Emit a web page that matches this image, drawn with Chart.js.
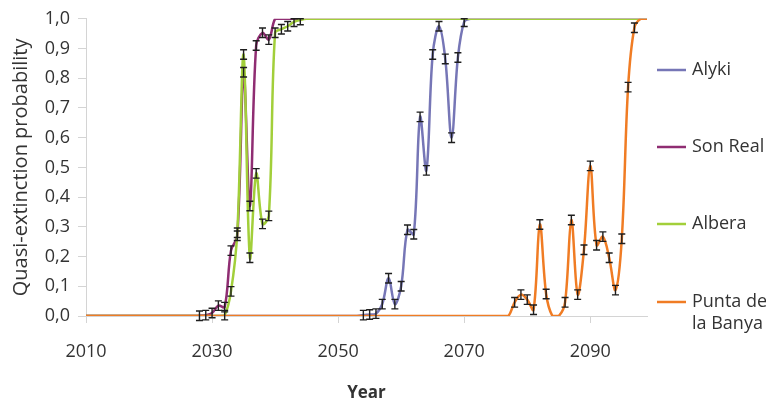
<!DOCTYPE html>
<html>
<head>
<meta charset="utf-8">
<script src="https://cdn.jsdelivr.net/npm/chart.js@4/dist/chart.umd.min.js"></script>
<style>
  html, body { margin: 0; padding: 0; background: #ffffff; }
  #wrap { width: 766px; height: 405px; }
</style>
</head>
<body>
<div id="wrap"><canvas id="c" width="766" height="405"></canvas></div>
<script>
// ---------------- DATA ----------------
const firstYear = 2010;
const lastYear = 2099;
const xTickYears = [2010, 2030, 2050, 2070, 2090];
const yTickValues = [0, 0.1, 0.2, 0.3, 0.4, 0.5, 0.6, 0.7, 0.8, 0.9, 1.0];
const yTickLabels = ['0,0', '0,1', '0,2', '0,3', '0,4', '0,5', '0,6', '0,7', '0,8', '0,9', '1,0'];
const seriesNames = ['Alyki', 'Son Real', 'Albera', 'Punta de la Banya'];
const legendLines = [['Alyki'], ['Son Real'], ['Albera'], ['Punta de', 'la Banya']];

// yearly values 2010..2099 (10 per row)
const alyki = [
  0, 0, 0, 0, 0, 0, 0, 0, 0, 0,               // 2010-2019
  0, 0, 0, 0, 0, 0, 0, 0, 0, 0,               // 2020-2029
  0, 0, 0, 0, 0, 0, 0, 0, 0, 0,               // 2030-2039
  0, 0, 0, 0, 0, 0, 0, 0, 0, 0,               // 2040-2049
  0, 0, 0, 0, 0.003, 0.005, 0.008, 0.04, 0.127, 0.04,   // 2050-2059
  0.10, 0.29, 0.275, 0.67, 0.49, 0.88, 0.975, 0.865, 0.60, 0.87, // 2060-2069
  0.99, 1, 1, 1, 1, 1, 1, 1, 1, 1,            // 2070-2079
  1, 1, 1, 1, 1, 1, 1, 1, 1, 1,               // 2080-2089
  1, 1, 1, 1, 1, 1, 1, 1, 1, 1                // 2090-2099
];
const sonReal = [
  0, 0, 0, 0, 0, 0, 0, 0, 0, 0,               // 2010-2019
  0, 0, 0, 0, 0, 0, 0, 0, 0.001, 0.003,       // 2020-2029
  0.01, 0.035, 0.03, 0.22, 0.27, 0.82, 0.37, 0.91, 0.953, 0.93, // 2030-2039
  1, 1, 1, 1, 1, 1, 1, 1, 1, 1,               // 2040-2049
  1, 1, 1, 1, 1, 1, 1, 1, 1, 1,               // 2050-2059
  1, 1, 1, 1, 1, 1, 1, 1, 1, 1,               // 2060-2069
  1, 1, 1, 1, 1, 1, 1, 1, 1, 1,               // 2070-2079
  1, 1, 1, 1, 1, 1, 1, 1, 1, 1,               // 2080-2089
  1, 1, 1, 1, 1, 1, 1, 1, 1, 1                // 2090-2099
];
const albera = [
  0, 0, 0, 0, 0, 0, 0, 0, 0, 0,               // 2010-2019
  0, 0, 0, 0, 0, 0, 0, 0, 0, 0,               // 2020-2029
  0, 0, 0.003, 0.083, 0.28, 0.88, 0.196, 0.48, 0.31, 0.337, // 2030-2039
  0.953, 0.965, 0.975, 0.99, 0.996, 1, 1, 1, 1, 1, // 2040-2049
  1, 1, 1, 1, 1, 1, 1, 1, 1, 1,               // 2050-2059
  1, 1, 1, 1, 1, 1, 1, 1, 1, 1,               // 2060-2069
  1, 1, 1, 1, 1, 1, 1, 1, 1, 1,               // 2070-2079
  1, 1, 1, 1, 1, 1, 1, 1, 1, 1,               // 2080-2089
  1, 1, 1, 1, 1, 1, 1, 1, 1, 1                // 2090-2099
];
const puntaBanya = [
  0, 0, 0, 0, 0, 0, 0, 0, 0, 0,               // 2010-2019
  0, 0, 0, 0, 0, 0, 0, 0, 0, 0,               // 2020-2029
  0, 0, 0, 0, 0, 0, 0, 0, 0, 0,               // 2030-2039
  0, 0, 0, 0, 0, 0, 0, 0, 0, 0,               // 2040-2049
  0, 0, 0, 0, 0, 0, 0, 0, 0, 0,               // 2050-2059
  0, 0, 0, 0, 0, 0, 0, 0, 0, 0,               // 2060-2069
  0, 0, 0, 0, 0, 0, 0, 0, 0.046, 0.072,       // 2070-2079
  0.055, 0.021, 0.308, 0.074, 0, 0, 0.046, 0.323, 0.072, 0.223, // 2080-2089
  0.505, 0.238, 0.267, 0.196, 0.087, 0.26, 0.77, 0.97, 1, 1     // 2090-2099
];
const errorHalf = 0.016; // half height of the error bars

// ---------------- STYLE ----------------
const colors = ['#7676b6', '#8f2d72', '#a2cf3a', '#f07c24'];
const drawOrder = [3, 2, 1, 0];
const textColor = '#333333';
const axisColor = '#d4d4d4';
const FONT = '"Open Sans", "DejaVu Sans", sans-serif';

const years = [];
for (let y = firstYear; y <= lastYear; y++) years.push(y);
const seriesValues = [alyki, sonReal, albera, puntaBanya];

const datasets = seriesValues.map((vals, i) => ({
  label: seriesNames[i],
  data: vals.map((v, k) => ({ x: years[k], y: v })),
  borderColor: colors[i],
  backgroundColor: colors[i],
  borderWidth: 2.5,
  pointRadius: 0,
  tension: 0.35,
  fill: false,
  order: drawOrder[i]
}));

const errorBarPlugin = {
  id: 'errorBars',
  afterDatasetsDraw(chart) {
    const ctx = chart.ctx;
    const xs = chart.scales.x, ys = chart.scales.y;
    ctx.save();
    ctx.strokeStyle = '#1e1e1e';
    ctx.lineWidth = 1.4;
    seriesValues.forEach(vals => {
      vals.forEach((v, k) => {
        if (v > 0 && v < 1) {
          const px = xs.getPixelForValue(years[k]);
          const top = ys.getPixelForValue(Math.min(1, v + errorHalf));
          const bot = ys.getPixelForValue(v - errorHalf);
          ctx.beginPath();
          ctx.moveTo(px, top); ctx.lineTo(px, bot);
          ctx.moveTo(px - 3.5, top); ctx.lineTo(px + 3.5, top);
          ctx.moveTo(px - 3.5, bot); ctx.lineTo(px + 3.5, bot);
          ctx.stroke();
        }
      });
    });
    ctx.restore();
  }
};

const legendPlugin = {
  id: 'sideLegend',
  afterDraw(chart) {
    const ctx = chart.ctx;
    const ys = [70, 147, 224, 302];
    ctx.save();
    ctx.font = '18px ' + FONT;
    ctx.fillStyle = textColor;
    ctx.textBaseline = 'middle';
    ctx.textAlign = 'left';
    legendLines.forEach((lines, i) => {
      ctx.strokeStyle = colors[i];
      ctx.lineWidth = 2.5;
      ctx.beginPath();
      ctx.moveTo(657, ys[i]); ctx.lineTo(686, ys[i]);
      ctx.stroke();
      lines.forEach((t, j) => ctx.fillText(t, 692, ys[i] + j * 22));
    });
    ctx.restore();
  }
};

new Chart(document.getElementById('c'), {
  type: 'line',
  data: { datasets },
  options: {
    responsive: false,
    animation: false,
    devicePixelRatio: 1,
    layout: { padding: { left: 0, right: 119, top: 14, bottom: 0 } },
    plugins: { legend: { display: false }, tooltip: { enabled: false } },
    scales: {
      x: {
        type: 'linear',
        min: firstYear,
        max: lastYear,
        afterBuildTicks: s => { s.ticks = xTickYears.map(v => ({ value: v })); },
        afterFit: s => { s.height = 89; },
        ticks: {
          color: textColor,
          font: { family: FONT, size: 18 },
          padding: 18,
          maxRotation: 0,
          autoSkip: false,
          callback: v => String(v)
        },
        grid: { drawOnChartArea: false, tickLength: 7, color: axisColor },
        border: { color: axisColor, width: 1 },
        title: {
          display: true,
          text: 'Year',
          color: textColor,
          font: { family: FONT, size: 17, weight: 'bold' },
          padding: { top: 0, bottom: 2 }
        }
      },
      y: {
        min: 0,
        max: 1,
        afterBuildTicks: s => { s.ticks = yTickValues.map(v => ({ value: v })); },
        afterFit: s => { s.width = 86; },
        ticks: {
          color: textColor,
          font: { family: FONT, size: 18 },
          padding: 8,
          autoSkip: false,
          callback: (v, i) => yTickLabels[i]
        },
        grid: { drawOnChartArea: false, tickLength: 8, color: axisColor },
        border: { color: axisColor, width: 1 },
        title: {
          display: true,
          text: 'Quasi-extinction probability',
          color: textColor,
          font: { family: FONT, size: 20 },
          padding: { top: 9, bottom: 0 }
        }
      }
    }
  },
  plugins: [errorBarPlugin, legendPlugin]
});
</script>
</body>
</html>
